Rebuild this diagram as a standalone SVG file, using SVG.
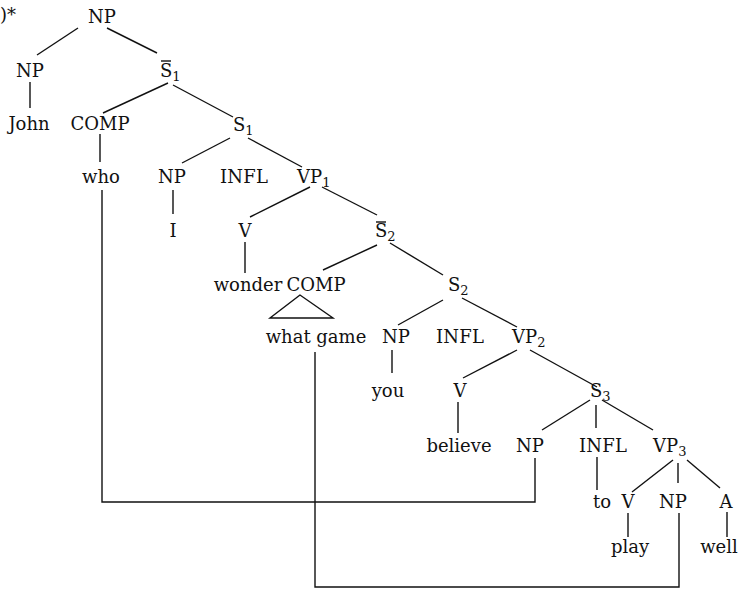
<svg xmlns="http://www.w3.org/2000/svg" width="739" height="589" viewBox="0 0 739 589">
<style>
text{font-family:"DejaVu Serif","Liberation Serif",serif;font-size:18px;fill:#111}
.m{text-anchor:middle}
.sub{font-size:13px}
line,polyline{stroke:#111;stroke-width:1.4;fill:none}
.tri{stroke:#111;stroke-width:1.4;fill:none}
</style>
<rect width="739" height="589" fill="#fff"/>
<text x="0" y="21">)*</text>
<g id="connectors">
<line x1="78" y1="28" x2="37" y2="55"/>
<line x1="107" y1="28" x2="157" y2="53"/>
<line x1="30" y1="82" x2="30" y2="108"/>
<line x1="168" y1="83" x2="103" y2="113"/>
<line x1="173" y1="85" x2="233" y2="117"/>
<line x1="100" y1="134" x2="100" y2="162"/>
<line x1="230" y1="138" x2="182" y2="163"/>
<line x1="248" y1="138" x2="302" y2="167"/>
<line x1="173" y1="190" x2="173" y2="214"/>
<line x1="310" y1="187" x2="250" y2="217"/>
<line x1="322" y1="187" x2="377" y2="215"/>
<line x1="245" y1="242" x2="245" y2="273"/>
<line x1="377" y1="245" x2="323" y2="270"/>
<line x1="390" y1="243" x2="443" y2="275"/>
<line x1="443" y1="300" x2="398" y2="325"/>
<line x1="462" y1="298" x2="517" y2="327"/>
<line x1="392" y1="350" x2="392" y2="373"/>
<line x1="517" y1="350" x2="463" y2="378"/>
<line x1="530" y1="350" x2="597" y2="387"/>
<line x1="458" y1="402" x2="458" y2="433"/>
<line x1="590" y1="400" x2="542" y2="430"/>
<line x1="596" y1="405" x2="596" y2="428"/>
<line x1="602" y1="400" x2="653" y2="430"/>
<line x1="597" y1="457" x2="597" y2="490"/>
<line x1="673" y1="460" x2="632" y2="492"/>
<line x1="678" y1="463" x2="678" y2="483"/>
<line x1="687" y1="460" x2="720" y2="488"/>
<line x1="628" y1="513" x2="628" y2="537"/>
<line x1="727" y1="512" x2="727" y2="537"/>
<polyline points="102,190 102,502 535,502 535,458"/>
<polyline points="315,352 315,587 679,587 679,513"/>
</g>
<g id="np0"><text class="m" x="102" y="23">NP</text></g>
<g id="np1"><text class="m" x="30" y="77">NP</text></g>
<g id="sbar1"><text x="160" y="77">S<tspan class="sub" dy="4">1</tspan></text><line x1="161" y1="61" x2="171" y2="61"/></g>
<g id="john"><text class="m" x="29" y="130">John</text></g>
<g id="comp1"><text class="m" x="100" y="130">COMP</text></g>
<g id="s1"><text x="233" y="131">S<tspan class="sub" dy="4">1</tspan></text></g>
<g id="who"><text class="m" x="101" y="183">who</text></g>
<g id="np2"><text class="m" x="172" y="183">NP</text></g>
<g id="infl1"><text class="m" x="244" y="183" textLength="48">INFL</text></g>
<g id="vp1"><text x="297" y="183">VP<tspan class="sub" dy="4">1</tspan></text></g>
<g id="i"><text class="m" x="173" y="237">I</text></g>
<g id="v1"><text class="m" x="245" y="237">V</text></g>
<g id="sbar2"><text x="375" y="237">S<tspan class="sub" dy="4">2</tspan></text><line x1="376" y1="222" x2="386" y2="222"/></g>
<g id="wonder"><text class="m" x="248" y="291">wonder</text></g>
<g id="comp2"><text class="m" x="316" y="291">COMP</text><polygon class="tri" points="300,295 270,318 333,318"/></g>
<g id="whatgame"><text class="m" x="316" y="343">what game</text></g>
<g id="s2"><text x="448" y="291">S<tspan class="sub" dy="4">2</tspan></text></g>
<g id="np3"><text class="m" x="396" y="343">NP</text></g>
<g id="infl2"><text class="m" x="460" y="343" textLength="48">INFL</text></g>
<g id="vp2"><text x="512" y="343">VP<tspan class="sub" dy="4">2</tspan></text></g>
<g id="you"><text class="m" x="388" y="397">you</text></g>
<g id="v2"><text class="m" x="460" y="397">V</text></g>
<g id="s3"><text x="590" y="397">S<tspan class="sub" dy="4">3</tspan></text></g>
<g id="believe"><text class="m" x="459" y="452">believe</text></g>
<g id="np4"><text class="m" x="530" y="452">NP</text></g>
<g id="infl3"><text class="m" x="603" y="452" textLength="48">INFL</text></g>
<g id="vp3"><text x="653" y="452">VP<tspan class="sub" dy="4">3</tspan></text></g>
<g id="to"><text class="m" x="602" y="508">to</text></g>
<g id="v3"><text class="m" x="628" y="508">V</text></g>
<g id="np5"><text class="m" x="673" y="508">NP</text></g>
<g id="a"><text class="m" x="726" y="508">A</text></g>
<g id="play"><text class="m" x="630" y="553">play</text></g>
<g id="well"><text class="m" x="719" y="553">well</text></g>
</svg>
